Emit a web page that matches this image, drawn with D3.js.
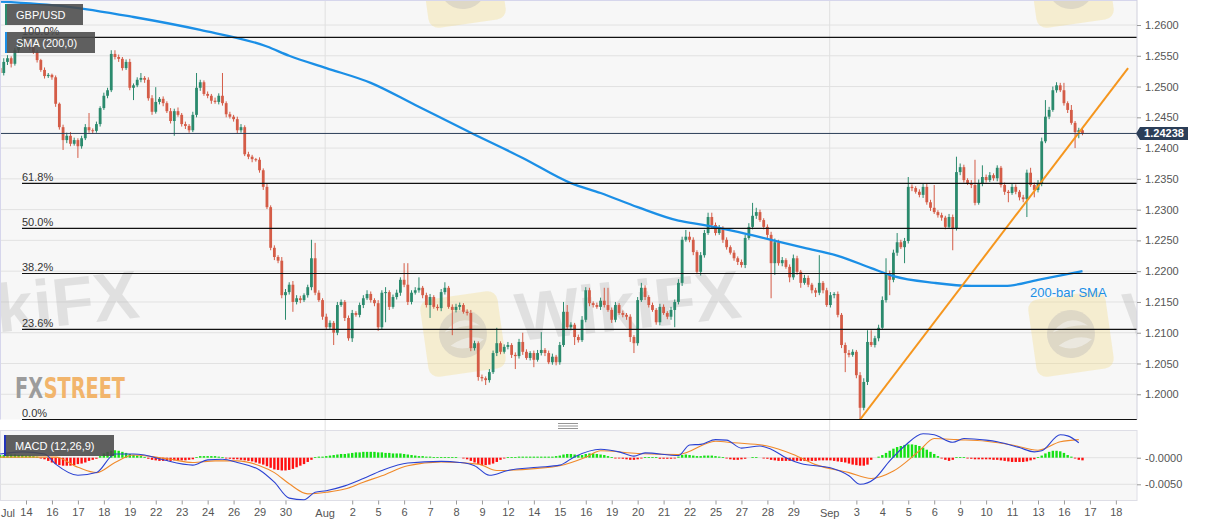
<!DOCTYPE html>
<html>
<head>
<meta charset="utf-8">
<script src="https://cdn.jsdelivr.net/npm/d3@7"></script>
<style>
  html, body { margin: 0; padding: 0; background: #fff; }
  svg { display: block; font-family: 'Liberation Sans', Arial, sans-serif; }
</style>
</head>
<body>
<svg id="chart" width="1207" height="526"></svg>
<script>
// ---- data (prices as 4-digit fraction: 2522 -> 1.2522) ----
const firstOpen = 2530;
const closes = [
  2522, 2540, 2546, 2537, 2559, 2567, 2574, 2569, 2564, 2556,
  2543, 2527, 2517, 2519, 2515, 2472, 2434, 2413, 2420, 2407,
  2413, 2403, 2416, 2434, 2429, 2428, 2439, 2465, 2485, 2494,
  2553, 2548, 2545, 2530, 2540, 2498, 2502, 2511, 2514, 2511,
  2481, 2459, 2475, 2480, 2473, 2460, 2444, 2460, 2454, 2439,
  2436, 2429, 2454, 2498, 2507, 2488, 2485, 2477, 2475, 2485,
  2473, 2455, 2451, 2447, 2429, 2434, 2390, 2386, 2382, 2381,
  2364, 2337, 2304, 2238, 2223, 2217, 2161, 2166, 2178, 2150,
  2156, 2153, 2161, 2174, 2221, 2165, 2153, 2126, 2109, 2116,
  2100, 2145, 2150, 2124, 2091, 2132, 2129, 2145, 2156, 2163,
  2153, 2148, 2109, 2165, 2166, 2142, 2158, 2165, 2186, 2178,
  2150, 2165, 2169, 2173, 2161, 2145, 2158, 2142, 2140, 2166,
  2173, 2142, 2137, 2142, 2145, 2134, 2132, 2075, 2083, 2028,
  2026, 2023, 2036, 2067, 2083, 2069, 2077, 2080, 2064, 2062,
  2085, 2069, 2059, 2067, 2056, 2067, 2072, 2067, 2052, 2061,
  2052, 2080, 2134, 2109, 2113, 2093, 2088, 2121, 2169, 2148,
  2145, 2142, 2152, 2145, 2137, 2121, 2145, 2132, 2129, 2126,
  2093, 2083, 2153, 2173, 2158, 2145, 2137, 2117, 2142, 2132,
  2126, 2137, 2150, 2181, 2251, 2256, 2251, 2231, 2199, 2226,
  2262, 2288, 2275, 2262, 2270, 2251, 2239, 2230, 2221, 2215,
  2210, 2254, 2272, 2290, 2296, 2283, 2272, 2259, 2213, 2247,
  2213, 2218, 2207, 2190, 2221, 2199, 2181, 2189, 2178, 2169,
  2165, 2181, 2169, 2145, 2161, 2163, 2129, 2080, 2067, 2064,
  2069, 2031, 1978, 2020, 2085, 2080, 2091, 2108, 2153, 2197,
  2186, 2230, 2247, 2239, 2249, 2337, 2335, 2329, 2324, 2337,
  2312, 2303, 2296, 2291, 2287, 2272, 2288, 2270, 2361, 2369,
  2348, 2343, 2340, 2311, 2343, 2353, 2348, 2356, 2351, 2368,
  2340, 2329, 2327, 2337, 2329, 2320, 2317, 2360, 2340, 2332,
  2343, 2411, 2451, 2462, 2494, 2502, 2494, 2473, 2462, 2441,
  2426, 2429, 2423.8
];
// wick lengths above / below the body, in pips
const wickUp = [
  4, 6, 5, 3, 4, 5, 6, 5, 3, 4,   3, 2, 4, 3, 2, 3, 2, 4, 5, 6,
  4, 3, 4, 5, 23, 3, 4, 3, 5, 4,  6, 6, 4, 3, 4, 5, 3, 4, 8, 3,
  4, 5, 24, 3, 4, 3, 5, 4, 6, 3,  4, 3, 5, 24, 4, 3, 4, 3, 5, 4,
  37, 3, 4, 3, 4, 5, 3, 4, 3, 2,  4, 3, 5, 3, 4, 3, 6, 5, 4, 6,
  5, 4, 3, 4, 30, 25, 4, 3, 5, 4, 3, 5, 4, 3, 4, 5, 3, 4, 5, 6,
  4, 3, 5, 4, 8, 3, 4, 5, 4, 27,  35, 4, 5, 17, 3, 4, 5, 3, 4, 5,
  9, 3, 4, 5, 4, 3, 4, 5, 4, 3,   4, 3, 5, 4, 25, 3, 4, 5, 3, 4,
  5, 15, 4, 3, 4, 5, 29, 3, 4, 5, 3, 5, 16, 11, 4, 3, 4, 6, 5, 4,
  3, 4, 5, 21, 28, 4, 5, 3, 4, 3, 4, 3, 5, 8, 4, 3, 4, 3, 5, 4,
  3, 5, 4, 6, 5, 11, 8, 4, 3, 5,  5, 7, 7, 4, 5, 3, 4, 3, 4, 3,
  4, 5, 6, 21, 7, 4, 3, 4, 5, 6,  4, 5, 3, 4, 6, 4, 3, 5, 4, 3,
  4, 45, 3, 4, 5, 3, 4, 3, 4, 5,  4, 3, 5, 6, 19, 19, 4, 5, 6, 24,
  4, 5, 15, 4, 5, 16, 4, 3, 4, 5, 6, 4, 37, 3, 4, 3, 5, 4, 25, 6,
  4, 3, 5, 41, 6, 19, 4, 5, 3, 4, 3, 4, 3, 5, 4, 3, 4, 5, 8, 4,
  5, 6, 27, 5, 6, 5, 4, 12, 3, 8, 3, 4, 3
];
const wickDn = [
  3, 4, 5, 6, 3, 4, 3, 4, 5, 3,   4, 3, 4, 3, 4, 5, 4, 16, 5, 4,
  3, 19, 4, 3, 4, 5, 3, 4, 3, 4,  3, 4, 5, 4, 3, 4, 20, 3, 4, 5,
  4, 5, 3, 4, 5, 3, 4, 24, 3, 4,  5, 4, 3, 4, 5, 3, 4, 5, 3, 4,
  4, 5, 3, 4, 5, 4, 3, 4, 5, 3,   4, 5, 3, 4, 5, 4, 5, 40, 4, 16,
  4, 5, 3, 4, 5, 4, 3, 5, 4, 3,   20, 4, 3, 5, 4, 6, 3, 4, 5, 3,
  4, 5, 6, 4, 48, 5, 3, 4, 5, 4,  5, 4, 3, 4, 5, 4, 21, 3, 4, 5,
  4, 3, 41, 4, 5, 3, 4, 5, 4, 6,  5, 8, 4, 3, 5, 4, 3, 4, 5, 21,
  4, 5, 3, 4, 12, 3, 4, 5, 3, 4,  5, 4, 3, 4, 5, 13, 4, 3, 4, 5,
  4, 3, 5, 4, 3, 5, 4, 3, 4, 5,   8, 16, 4, 3, 5, 4, 3, 4, 5, 3,
  4, 5, 28, 4, 5, 3, 4, 5, 4, 6,  4, 3, 5, 4, 3, 5, 4, 3, 4, 5,
  4, 5, 3, 4, 5, 3, 4, 5, 57, 19, 4, 5, 3, 8, 4, 5, 8, 3, 4, 5,
  7, 4, 5, 3, 4, 5, 4, 5, 31, 4,  3, 5, 19, 4, 5, 3, 4, 5, 3, 4,
  25, 4, 5, 3, 26, 4, 5, 3, 4, 5, 4, 5, 3, 4, 5, 4, 3, 36, 4, 5,
  4, 3, 5, 4, 3, 5, 4, 3, 4, 5,   4, 5, 15, 3, 4, 5, 5, 29, 3, 12,
  4, 5, 3, 4, 3, 4, 3, 4, 5, 3,   26, 10, 3
];

// 200-bar SMA, sampled at bar indices
const smaIdx = [0, 18, 36, 54, 72, 78, 88, 100, 112, 127, 141, 154, 162, 172, 183, 190, 199, 208, 217, 226, 235, 241, 252, 262, 271, 280, 292];
const smaVal = [2638, 2630, 2613, 2592, 2565, 2550, 2530, 2506, 2470, 2425, 2384, 2343, 2327, 2304, 2282, 2275, 2264, 2251, 2238, 2225, 2205, 2192, 2181, 2176, 2176, 2186, 2200];

// trend line from the Sep 3 low
const trendIdx = [232, 304.3];
const trendVal = [1.1959, 1.2530];

const lastPrice = 1.24238;
const fibLow = 1.1959;
const fibHigh = 1.2580;
const fibLevels = [0, 0.236, 0.382, 0.5, 0.618, 1];
const fibLabels = ['0.0%', '23.6%', '38.2%', '50.0%', '61.8%', '100.0%'];

const priceTicks = [1.2000, 1.2050, 1.2100, 1.2150, 1.2200, 1.2250, 1.2300, 1.2350, 1.2400, 1.2450, 1.2500, 1.2550, 1.2600];

// MACD (12,26,9) in units of 0.0001
const macdIdx = [0, 6, 12, 15, 21, 26, 31, 36, 39, 44, 52, 56, 60, 64, 70, 74, 78, 82, 85, 88, 93, 98, 103, 110, 119, 124, 128, 132, 137, 145, 151, 155, 162, 167, 171, 174, 183, 186, 189, 193, 196, 200, 205, 208, 212, 216, 224, 229, 232, 236, 240, 244, 249, 252, 257, 260, 266, 269, 275, 279, 281, 286, 288, 291];
const macdVal = [7, 11, 7, -12, -33, -28, 7, 7, 5, -4, -14, -4, -3, -9, -23, -46, -76, -79, -65, -62, -53, -39, -24, -10, -7, -9, -15, -33, -24, -18, -14, 2, 16, 11, 3, 9, 4, 24, 25, 34, 33, 18, 22, 16, 0, -11, -19, -34, -50, -39, -6, 22, 45, 43, 29, 36, 33, 30, 19, 11, 13, 43, 41, 28];
const signalIdx = [0, 15, 21, 26, 31, 36, 41, 46, 52, 58, 64, 70, 74, 78, 83, 88, 93, 98, 103, 110, 119, 129, 134, 145, 151, 158, 162, 172, 183, 193, 198, 207, 214, 220, 229, 235, 241, 248, 252, 258, 266, 273, 280, 286, 291];
const signalVal = [1, 1, -18, -28, -9, 5, 2, -3, -9, -6, -6, -15, -28, -49, -68, -65, -59, -46, -34, -15, -8, -12, -24, -20, -15, 1, 13, 8, 6, 31, 28, 22, 6, -13, -28, -39, -25, 13, 36, 34, 31, 24, 14, 30, 34];
const histVal = [
  5, 5, 6, 6, 6, 5, 5, 4, 4, 3, 2,
  -1, -3, -6, -9, -12, -14, -15, -15, -15, -14, -12, -11, -9, -6, -4, -2,
  3, 8, 11, 13, 14, 13, 11, 9, 7, 5, 4, 3, 1,
  -2, -4, -5, -6, -6, -6, -6, -5, -5, -5, -5, -4, -3,
  1, 3, 3, 3, 3, 3, 2, 1,
  -1, -2, -3, -3, -4, -5, -6, -7, -9, -11, -13, -16, -19, -22, -23, -24, -24, -23, -21, -18, -15, -12, -8, -4,
  1, 2, 2, 3, 4, 5, 6, 7, 7, 8, 9, 10, 10, 11, 11, 11, 11, 10, 10, 9,
  9, 8, 8, 8, 7, 6, 5, 4, 3, 3, 2, 2, 1, 1, 1, 1, 1, 1, 1, 0,
  -1, -3, -6, -9, -12, -14, -14, -13, -11, -8, -4, -1,
  1, 1, 1, 2, 2, 2, 2, 2, 2, 2, 2, 2, 2, 3,
  4, 6, 7, 7, 6, 5, 5, 7, 8, 8, 7, 6, 5, 3, 1,
  -1, -1, -2, -3, -4, -4, -3, -1,
  1, 1, 1, 1,
  -2, -2, -2, -2, -1,
  2, 5, 6, 5, 4, 3, 3, 4, 4, 4, 3, 2, 1,
  -1, -3, -4, -4, -3, -2,
  0, 1, 1, 0, -1,
  -2, -4, -5, -6, -6, -6, -6, -6, -6, -6, -6, -6, -6, -6, -5, -5, -5, -5, -6, -7,
  -8, -9, -11, -13, -14, -15, -15, -13, -4, 0,
  2, 5, 9, 13, 17, 20, 22, 24, 25, 25, 24, 22, 19, 15, 11, 7, 3,
  -1, -4, -6, -4,
  1, 1, 1,
  -1, -2, -3, -3, -3, -3, -3, -4, -4, -5, -6, -7, -8, -8, -8, -8, -7, -5, -3,
  1, 4, 8, 11, 13, 13, 12, 9, 5, 2,
  -1, -4, -5
];
const macdTicks = [0, -0.005];

// x axis: bar index of each tick
const dayIdx = [7, 14, 21, 28, 35, 42, 49, 56, 63, 70, 77,
  95, 102, 109, 116, 123, 130, 137, 144, 151, 158, 165, 172, 179, 186, 193, 200, 207, 214,
  231, 238, 245, 252, 259, 266, 273, 280, 287, 294, 301];
const dayLabels = ['14', '16', '17', '18', '19', '22', '23', '24', '26', '29', '30',
  '2', '5', '6', '7', '8', '9', '12', '14', '15', '16', '19', '20', '21', '22', '25', '27', '28', '29',
  '3', '4', '5', '6', '9', '10', '11', '13', '16', '17', '18'];
const monthIdx = [0, 87.7, 223.8];
const monthLabels = ['Jul', 'Aug', 'Sep'];

// ---- layout ----
const plotR = 1137;
const plotB = 419.5;
const macdT = 430.5;
const macdB = 500.5;
const green = '#2b8a6d';
const red = '#d45c47';

const px = (v) => 1 + v / 10000;

const x = d3.scaleLinear().domain([0, 300]).range([0.05, 1112.15]);
const y = d3.scaleLinear().domain([1.1959, 1.26]).range([plotB, 25]);
const ym = d3.scaleLinear().domain([0, -0.005]).range([457.7, 484.3]);

const svg = d3.select('#chart');

svg.append('defs').append('clipPath').attr('id', 'plotClip')
  .append('rect').attr('x', 0).attr('y', 0).attr('width', plotR).attr('height', plotB);

// panel backgrounds
svg.append('rect').attr('x', 0).attr('y', 0).attr('width', plotR).attr('height', plotB)
  .attr('fill', '#f7f7f7');
svg.append('rect').attr('x', 0.5).attr('y', macdT).attr('width', plotR - 0.5).attr('height', macdB - macdT)
  .attr('fill', '#f7f7f7').attr('stroke', '#dedee6');

// horizontal grid
svg.append('g').selectAll('line').data(priceTicks).join('line')
  .attr('x1', 0).attr('x2', plotR)
  .attr('y1', (d) => y(d)).attr('y2', (d) => y(d))
  .attr('stroke', '#e2e2e2');
svg.append('g').selectAll('line').data(macdTicks).join('line')
  .attr('x1', 0).attr('x2', plotR)
  .attr('y1', (d) => ym(d)).attr('y2', (d) => ym(d))
  .attr('stroke', '#e2e2e2');

// month separators
svg.append('g').selectAll('line').data(monthIdx.slice(1)).join('line')
  .attr('x1', (d) => x(d)).attr('x2', (d) => x(d))
  .attr('y1', 0).attr('y2', macdB)
  .attr('stroke', '#e0e0e0');

// watermarks
const wm = svg.append('g').attr('clip-path', 'url(#plotClip)');
[[-139, -15], [463, -15], [1071, -15], [-139, 334], [463, 334], [1071, 334]].forEach(([cx, cy]) => {
  const g = wm.append('g').attr('transform', `translate(${cx},${cy}) rotate(-8)`);
  g.append('rect').attr('x', -39).attr('y', -39).attr('width', 78).attr('height', 78).attr('rx', 10)
    .attr('fill', '#f2d677').attr('opacity', 0.3);
  g.append('circle').attr('r', 24).attr('fill', '#8e8ea6').attr('opacity', 0.22);
  g.append('path').attr('d', 'M-18,-4 Q0,-22 18,-6 Q4,-10 -18,-4 Z M-14,10 Q4,0 20,8 Q2,20 -14,10 Z')
    .attr('fill', '#f7f7f7').attr('opacity', 0.5);
  if (cy > 0) {
    wm.append('text')
      .attr('transform', `translate(${cx + 55},${cy + 7}) rotate(-6)`)
      .attr('font-size', 68).attr('font-weight', 'bold')
      .attr('fill', '#a8a8a8').attr('opacity', 0.28)
      .text('WikiFX');
  }
});

// FXStreet logo: two texts side by side, squeezed to 110px
const logo = svg.append('g').attr('font-family', "'DejaVu Sans Condensed','DejaVu Sans',sans-serif")
  .attr('font-weight', 'bold').attr('font-size', 29);
const fxText = logo.append('text').attr('x', 0).attr('y', 0).attr('fill', '#9c9c9c').text('FX');
const fxW = fxText.node().getComputedTextLength();
const stText = logo.append('text').attr('x', fxW + 1).attr('y', 0).attr('fill', '#f2b56c').text('STREET');
const stW = stText.node().getComputedTextLength();
logo.attr('transform', `translate(15,398) scale(${110 / (fxW + 1 + stW)},1)`);

// candles
const candles = closes.map((c, i) => {
  const o = i === 0 ? firstOpen : closes[i - 1];
  return {
    i, o, c,
    h: Math.max(o, c) + wickUp[i],
    l: Math.min(o, c) - wickDn[i],
  };
});

const cg = svg.append('g').attr('clip-path', 'url(#plotClip)');
cg.selectAll('line.wick').data(candles).join('line')
  .attr('class', 'wick')
  .attr('x1', (d) => x(d.i)).attr('x2', (d) => x(d.i))
  .attr('y1', (d) => y(px(d.h))).attr('y2', (d) => y(px(d.l)))
  .attr('stroke', (d) => (d.c >= d.o ? green : red))
  .attr('stroke-width', 1);
cg.selectAll('rect.body').data(candles).join('rect')
  .attr('class', 'body')
  .attr('x', (d) => x(d.i) - 1.4)
  .attr('width', 2.8)
  .attr('y', (d) => y(px(Math.max(d.o, d.c))))
  .attr('height', (d) => Math.max(1, Math.abs(y(px(d.o)) - y(px(d.c)))))
  .attr('fill', (d) => (d.c >= d.o ? green : red));

// fibonacci retracement
const fib = svg.append('g');
fibLevels.forEach((lv, k) => {
  const p = fibLow + (fibHigh - fibLow) * lv;
  fib.append('line').attr('x1', 22).attr('x2', plotR)
    .attr('y1', y(p)).attr('y2', y(p))
    .attr('stroke', '#111').attr('stroke-width', 1.2);
  fib.append('text').attr('x', 22).attr('y', y(p) - 2.5)
    .attr('font-size', 11).attr('fill', '#333').text(fibLabels[k]);
});

// 200-bar SMA
const smaLine = d3.line().x((d) => x(d[0])).y((d) => y(px(d[1]))).curve(d3.curveMonotoneX);
cg.append('path').datum(smaIdx.map((d, k) => [d, smaVal[k]]))
  .attr('d', smaLine).attr('fill', 'none')
  .attr('stroke', '#1b8fe6').attr('stroke-width', 2.3);
svg.append('text').attr('x', 1030).attr('y', 297).attr('font-size', 13)
  .attr('fill', '#1b8fe6').text('200-bar SMA');

// trend line
cg.append('line')
  .attr('x1', x(trendIdx[0])).attr('y1', y(trendVal[0]))
  .attr('x2', x(trendIdx[1])).attr('y2', y(trendVal[1]))
  .attr('stroke', '#f5961e').attr('stroke-width', 2);

// last price line
svg.append('line').attr('x1', 0).attr('x2', plotR)
  .attr('y1', y(lastPrice)).attr('y2', y(lastPrice))
  .attr('stroke', '#2b3e58').attr('stroke-width', 1);

// MACD histogram and lines
const mg = svg.append('g');
mg.selectAll('rect').data(histVal.map((v, i) => ({ i, v })).filter((d) => d.v !== 0)).join('rect')
  .attr('x', (d) => x(d.i) - 1.2)
  .attr('width', 2.4)
  .attr('y', (d) => Math.min(ym(0), ym(d.v / 10000)))
  .attr('height', (d) => Math.max(0.8, Math.abs(ym(d.v / 10000) - ym(0))))
  .attr('fill', (d) => (d.v > 0 ? '#14e214' : '#ff1010'));
const mLine = d3.line().x((d) => x(d[0])).y((d) => ym(d[1] / 10000)).curve(d3.curveMonotoneX);
mg.append('path').datum(signalIdx.map((d, k) => [d, signalVal[k]]))
  .attr('d', mLine).attr('fill', 'none').attr('stroke', '#f08a2a').attr('stroke-width', 1.1);
mg.append('path').datum(macdIdx.map((d, k) => [d, macdVal[k]]))
  .attr('d', mLine).attr('fill', 'none').attr('stroke', '#2b42d2').attr('stroke-width', 1.1);

// panel borders
svg.append('line').attr('x1', 0).attr('x2', plotR).attr('y1', 0.5).attr('y2', 0.5).attr('stroke', '#d6d6ec');
svg.append('line').attr('x1', 0.5).attr('x2', 0.5).attr('y1', 0).attr('y2', plotB).attr('stroke', '#d6d6ec');
svg.append('line').attr('x1', plotR).attr('x2', plotR).attr('y1', 0).attr('y2', plotB).attr('stroke', '#d0d0dc');

// separator handle
[423.5, 426, 428.5].forEach((hy) => {
  svg.append('line').attr('x1', 558).attr('x2', 578).attr('y1', hy).attr('y2', hy)
    .attr('stroke', '#7a7a7a').attr('stroke-width', 0.8);
});

// axes
function styleAxis(g) {
  g.select('.domain').remove();
  g.selectAll('.tick line').attr('stroke', '#9a9a9a');
  g.selectAll('.tick text').attr('fill', '#555').attr('font-size', 11)
    .attr('font-family', "'Liberation Sans', Arial, sans-serif");
}

svg.append('g').attr('transform', `translate(${plotR},0)`)
  .call(d3.axisRight(y).tickValues(priceTicks).tickSize(4).tickPadding(4).tickFormat(d3.format('.4f')))
  .call(styleAxis);

svg.append('g').attr('transform', `translate(${plotR},0)`)
  .call(d3.axisRight(ym).tickValues(macdTicks).tickSize(4).tickPadding(4)
    .tickFormat((d) => (d <= 0 ? '-' : '') + Math.abs(d).toFixed(4)))
  .call(styleAxis);

svg.append('g').attr('transform', `translate(0,${macdB})`)
  .call(d3.axisBottom(x).tickValues(dayIdx).tickSize(4).tickPadding(4)
    .tickFormat((d, k) => dayLabels[k]))
  .call(styleAxis);

svg.append('g').selectAll('text').data(monthIdx).join('text')
  .attr('x', (d, k) => (k === 0 ? 1 : x(d)))
  .attr('y', macdB + 16.5)
  .attr('text-anchor', (d, k) => (k === 0 ? 'start' : 'middle'))
  .attr('font-size', 11).attr('fill', '#555')
  .text((d, k) => monthLabels[k]);

// last price tag
const ty = y(lastPrice);
svg.append('path')
  .attr('d', `M${plotR - 1},${ty} L${plotR + 3},${ty - 6.5} L1188,${ty - 6.5} L1188,${ty + 6.5} L${plotR + 3},${ty + 6.5} Z`)
  .attr('fill', '#2b3e58');
svg.append('text').attr('x', 1164).attr('y', ty).attr('dy', '0.36em')
  .attr('text-anchor', 'middle').attr('font-size', 11).attr('font-weight', 'bold')
  .attr('fill', '#fff').text(lastPrice.toFixed(5));

// legend boxes
function legendBox(bx, by, w, accent, label) {
  svg.append('rect').attr('x', bx).attr('y', by).attr('width', w).attr('height', 21)
    .attr('fill', '#4a4a4a').attr('opacity', 0.88);
  svg.append('rect').attr('x', bx).attr('y', by).attr('width', 2).attr('height', 21)
    .attr('fill', accent);
  svg.append('text').attr('x', bx + 11).attr('y', by + 15).attr('font-size', 11)
    .attr('fill', '#fff').text(label);
}
legendBox(5, 4, 78, '#2b8a6d', 'GBP/USD');
legendBox(5, 32, 90, '#1b8fe6', 'SMA (200,0)');
legendBox(4, 435, 110, '#2233bb', 'MACD (12,26,9)');
</script>
</body>
</html>
